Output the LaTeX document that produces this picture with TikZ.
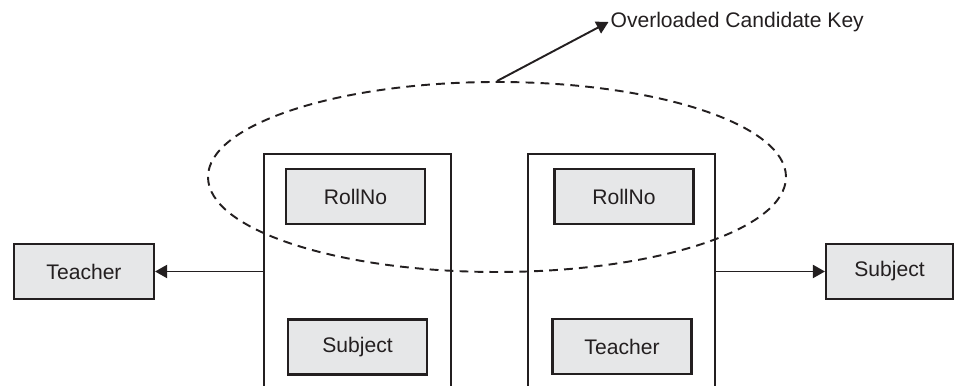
\documentclass[tikz,border=0pt]{standalone}
\usepackage{fontspec}
\setmainfont{Liberation Sans}
\definecolor{ink}{HTML}{231F20}
\definecolor{boxfill}{HTML}{E6E7E8}
\usetikzlibrary{shapes.geometric,arrows.meta,positioning}
\begin{document}
\begin{tikzpicture}[
  tbl/.style={rectangle, draw=ink, line width=1.2pt, minimum width=3.74cm,
              minimum height=4.9cm},
  attr/.style={rectangle, draw=ink, line width=1.2pt, fill=boxfill,
               minimum width=2.78cm, minimum height=1.1cm,
               font=\fontsize{12}{14}\selectfont, text=ink},
  lnk/.style={-{Triangle[length=2.4mm,width=2.6mm]}, draw=ink, line width=1.1pt},
]
\useasboundingbox (0,0) rectangle (19.08,7.72);
\clip (0,0) rectangle (19.08,7.72);

% the two tables
\node[tbl] (t1) at (7.15,2.19) {};
\node[attr] (roll1) at (7.11,3.79) {RollNo};
\node[attr] (subj1) at (7.15,0.78) {Subject};

\node[tbl] (t2) at (12.43,2.19) {};
\node[attr] (roll2) at (12.48,3.79) {RollNo};
\node[attr] (teach2) at (12.44,0.79) {Teacher};

% outside attributes
\node[attr, minimum width=2.8cm] (teach) at (1.68,2.29) {Teacher};
\node[attr, minimum width=2.54cm] (subj) at (17.79,2.29) {Subject};

\draw[lnk] (t1.west |- teach.east) -- (teach.east);
\draw[lnk] (t2.east |- subj.west) -- (subj.west);

% candidate key
\node[ellipse, draw=ink, line width=1.1pt, dash pattern=on 5pt off 3.5pt,
      minimum width=11.56cm, minimum height=3.8cm] (ckey) at (9.94,4.18) {};
\node[anchor=west, inner sep=1pt, text=ink, font=\fontsize{12}{14}\selectfont]
  (klbl) at (12.17,7.28) {Overloaded Candidate Key};
\draw[lnk] (ckey.north) -- (klbl.west);
\end{tikzpicture}
\end{document}
